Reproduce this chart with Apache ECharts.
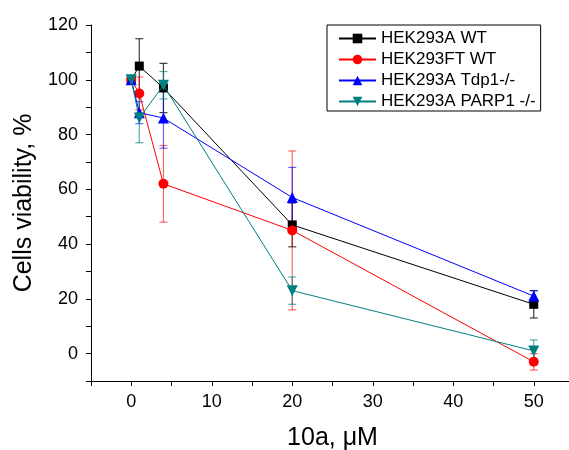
<!DOCTYPE html>
<html>
<head>
<meta charset="utf-8">
<script src="https://cdn.jsdelivr.net/npm/echarts@6/dist/echarts.min.js"></script>
<style>html,body{margin:0;padding:0;background:#fff}#c{width:569px;height:450px}</style>
</head>
<body>
<div id="c"></div>
<script>
const xVals = [0, 1, 4, 20, 50];
const seriesNames = ['HEK293A WT', 'HEK293FT WT', 'HEK293A Tdp1-/-', 'HEK293A PARP1 -/-'];
const wtVals = [100, 105, 97, 47, 18];
const wtErr = [0, 10, 9, 8, 5];
const ftVals = [100, 95, 62, 45, -3];
const ftErr = [0, 6, 14, 29, 3];
const tdpVals = [100, 88, 86, 57, 21];
const tdpErr = [0, 4, 11, 11, 2];
const parpVals = [100, 86, 98, 23, 1];
const parpErr = [0, 9, 5, 5, 4];
const yTickLabels = [0, 20, 40, 60, 80, 100, 120];
const xTickLabels = [0, 10, 20, 30, 40, 50];

const colors = ['#000000', '#ff0000', '#0000ff', '#008080'];
const errColors = ['rgba(0,0,0,0.75)', 'rgba(255,0,0,0.6)', 'rgba(0,0,255,0.6)', 'rgba(0,128,128,0.65)'];
const symbols = ['rect', 'circle', 'triangle', 'path://M0,0 L10,0 L5,9 Z'];
const symbolSizes = [9, 10, 11, 11];
const allVals = [wtVals, ftVals, tdpVals, parpVals];
const allErr = [wtErr, ftErr, tdpErr, parpErr];

const font = '"Liberation Sans", Arial, sans-serif';
const chart = echarts.init(document.getElementById('c'), null, {renderer: 'canvas'});

const series = [];
allVals.forEach((vals, i) => {
  series.push({
    type: 'custom',
    name: seriesNames[i] + ' err',
    silent: true,
    z: 1,
    data: xVals.map((x, k) => [x, vals[k], allErr[i][k]]),
    renderItem: function (params, api) {
      const x = api.value(0), y = api.value(1), e = api.value(2);
      if (!e) return null;
      const top = api.coord([x, y + e]);
      const bot = api.coord([x, y - e]);
      const hw = 4;
      const st = {stroke: errColors[i], lineWidth: 1.2};
      return {
        type: 'group',
        children: [
          {type: 'line', shape: {x1: top[0], y1: top[1], x2: bot[0], y2: bot[1]}, style: st},
          {type: 'line', shape: {x1: top[0] - hw, y1: top[1], x2: top[0] + hw, y2: top[1]}, style: st},
          {type: 'line', shape: {x1: bot[0] - hw, y1: bot[1], x2: bot[0] + hw, y2: bot[1]}, style: st}
        ]
      };
    }
  });
});
allVals.forEach((vals, i) => {
  series.push({
    type: 'line',
    name: seriesNames[i],
    data: xVals.map((x, k) => [x, vals[k]]),
    symbol: symbols[i],
    symbolSize: symbolSizes[i],
    showAllSymbol: true,
    z: 2 + i,
    lineStyle: {color: colors[i], width: 1},
    itemStyle: {color: colors[i], borderWidth: 0},
    emphasis: {disabled: true},
    animation: false
  });
});

chart.setOption({
  animation: false,
  backgroundColor: '#ffffff',
  grid: {left: 91, right: -5, top: 25, bottom: 69, outerBoundsMode: 'none', containLabel: false},
  legend: {
    data: seriesNames,
    orient: 'vertical',
    left: 327,
    top: 25,
    borderColor: '#000',
    borderWidth: 1,
    padding: [5, 5, 1, 11],
    itemGap: 4,
    itemWidth: 37,
    itemHeight: 12,
    selectedMode: false,
    textStyle: {fontFamily: font, fontSize: 17, color: '#000'}
  },
  xAxis: {
    type: 'value',
    min: -5, max: 55, interval: 5,
    name: '10a, \u03bcM',
    nameLocation: 'middle',
    nameGap: 45,
    nameTextStyle: {fontFamily: font, fontSize: 25, color: '#000'},
    axisLine: {onZero: false, lineStyle: {color: '#000', width: 1}},
    axisTick: {show: true, inside: false, length: 5, lineStyle: {color: '#000'}},
    axisLabel: {
      fontFamily: font, fontSize: 18, color: '#000', margin: 12,
      formatter: v => xTickLabels.includes(v) ? String(v) : ''
    },
    splitLine: {show: false}
  },
  yAxis: {
    type: 'value',
    min: -10, max: 120, interval: 10,
    name: 'Cells viability, %',
    nameLocation: 'middle',
    nameGap: 50,
    nameRotate: 90,
    nameTextStyle: {fontFamily: font, fontSize: 25, color: '#000'},
    axisLine: {show: true, onZero: false, lineStyle: {color: '#000', width: 1}},
    axisTick: {show: true, inside: false, length: 5, lineStyle: {color: '#000'}},
    axisLabel: {
      fontFamily: font, fontSize: 18, color: '#000', margin: 13,
      formatter: v => yTickLabels.includes(v) ? String(v) : ''
    },
    splitLine: {show: false}
  },
  series: series
});
</script>
</body>
</html>
